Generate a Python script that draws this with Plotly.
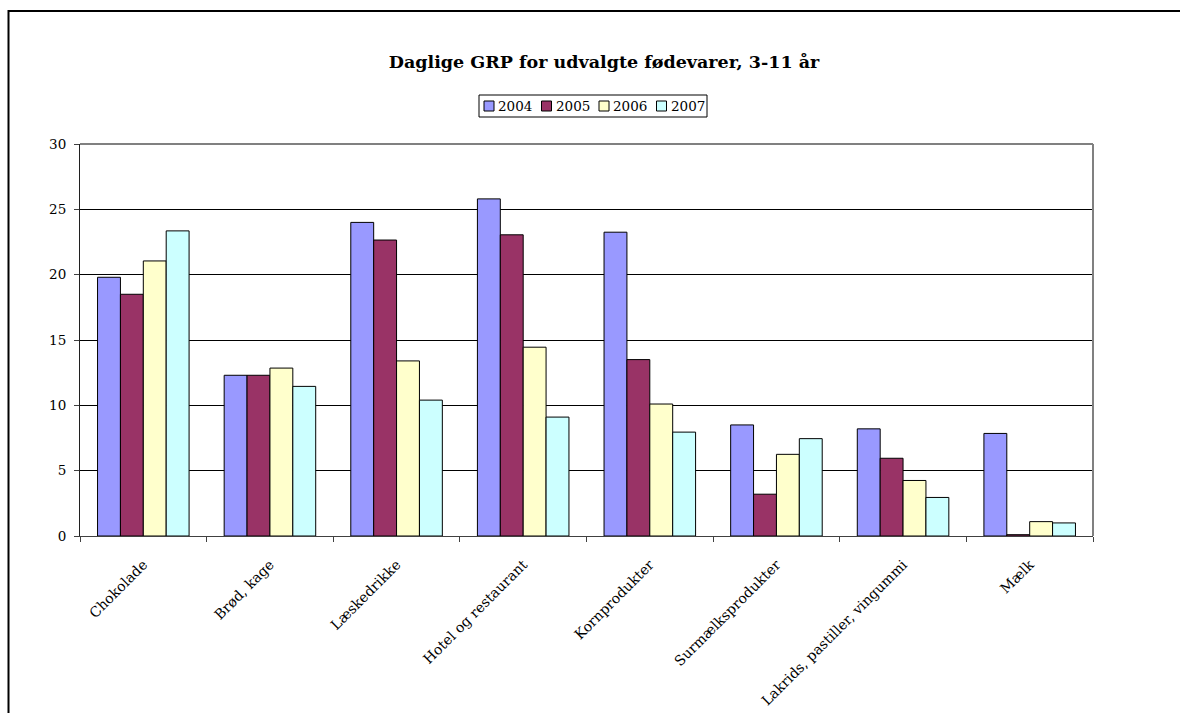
import plotly.graph_objects as go

# Daily GRP per food category, children 3-11 years
categories = ["Chokolade", "Brød, kage", "Læskedrikke", "Hotel og restaurant",
              "Kornprodukter", "Surmælksprodukter", "Lakrids, pastiller, vingummi", "Mælk"]
v2004 = [19.8, 12.3, 24.0, 25.8, 23.25, 8.5, 8.2, 7.85]
v2005 = [18.5, 12.3, 22.65, 23.05, 13.5, 3.2, 5.95, 0.1]
v2006 = [21.05, 12.85, 13.4, 14.45, 10.1, 6.25, 4.25, 1.1]
v2007 = [23.35, 11.45, 10.4, 9.1, 7.95, 7.45, 2.95, 1.0]
years = ["2004", "2005", "2006", "2007"]
colors = ["#9999FF", "#993366", "#FFFFCC", "#CCFFFF"]

FONT = "DejaVu Serif"

fig = go.Figure()
for name, vals, col in zip(years, [v2004, v2005, v2006, v2007], colors):
    fig.add_trace(go.Bar(
        x=categories, y=vals, name=name, showlegend=False,
        marker=dict(color=col, line=dict(color="black", width=1)),
    ))

L, R, T, B = 80, 87, 144, 177
W, H = 1180, 713
pw, ph = W - L - R, H - T - B


def px_x(p):
    return (p - L) / pw


def px_y(p):
    return (H - B - p) / ph


shapes = [
    # plot area frame (top and right edges)
    dict(type="line", xref="paper", yref="paper", x0=0, x1=1, y0=1, y1=1,
         line=dict(color="#808080", width=2)),
    dict(type="line", xref="paper", yref="paper", x0=1, x1=1, y0=0, y1=1,
         line=dict(color="#808080", width=2)),
    # outer chart frame
    dict(type="rect", xref="paper", yref="paper",
         x0=px_x(8.5), x1=px_x(1250), y0=px_y(760), y1=px_y(11),
         line=dict(color="black", width=2), layer="above"),
    # legend box
    dict(type="rect", xref="paper", yref="paper",
         x0=px_x(479), x1=px_x(707), y0=px_y(117), y1=px_y(95),
         line=dict(color="black", width=1), fillcolor="white"),
]
annotations = []

# legend entries: swatch + label
leg_x0, leg_step, leg_yc = 484, 57.5, 106
for i, (name, col) in enumerate(zip(years, colors)):
    sx = leg_x0 + i * leg_step
    shapes.append(dict(type="rect", xref="paper", yref="paper",
                       x0=px_x(sx), x1=px_x(sx + 10),
                       y0=px_y(leg_yc + 5), y1=px_y(leg_yc - 5),
                       line=dict(color="black", width=1), fillcolor=col))
    annotations.append(dict(text=name, xref="paper", yref="paper",
                            x=px_x(sx + 12), y=px_y(leg_yc), xanchor="left",
                            yanchor="middle", showarrow=False,
                            font=dict(family=FONT, size=13.5, color="black")))

fig.update_layout(
    width=W, height=H,
    margin=dict(l=L, r=R, t=T, b=B),
    paper_bgcolor="white", plot_bgcolor="white",
    barmode="group", bargap=0.277, bargroupgap=0,
    font=dict(family=FONT, size=13.5, color="black"),
    title=dict(text="<b>Daglige GRP for udvalgte fødevarer, 3-11 år</b>",
               x=604 / W, xanchor="center", y=1 - 62 / H, yanchor="middle",
               font=dict(family=FONT, size=17.5, color="black")),
    xaxis=dict(tickangle=-45, showline=True, linecolor="#404040", linewidth=1,
               ticks="outside", tickson="boundaries", ticklen=5, tickcolor="#404040",
               showgrid=False, ticklabelstandoff=14, automargin=False,
               tickfont=dict(family=FONT, size=14)),
    yaxis=dict(range=[0, 30], dtick=5, showline=True, linecolor="#202020", linewidth=1,
               ticks="outside", ticklen=5, tickcolor="#404040",
               showgrid=True, gridcolor="black", gridwidth=1, zeroline=False,
               ticklabelstandoff=5, automargin=False,
               tickfont=dict(family=FONT, size=13.5)),
    shapes=shapes,
    annotations=annotations,
)

fig.write_html("out.html")
